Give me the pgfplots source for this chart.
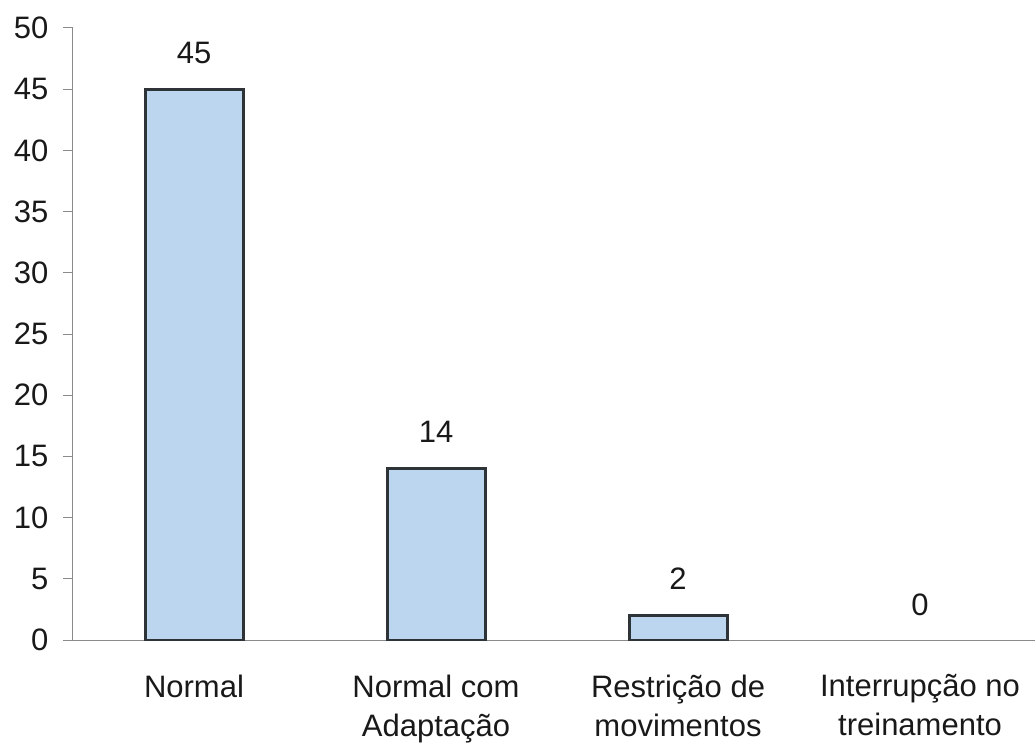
\documentclass[border=0pt]{standalone}
\usepackage{fontspec}
\setmainfont{Liberation Sans}
\usepackage{pgfplots}
\pgfplotsset{compat=1.18}

\definecolor{barfill}{HTML}{BDD6EF}
\definecolor{barline}{HTML}{2E3338}
\definecolor{axgray}{HTML}{8A8A8A}

\begin{document}
\begin{tikzpicture}
\path[use as bounding box] (-73pt,-105pt) rectangle (962pt,640pt);
\begin{axis}[
    scale only axis,
    width=962pt, height=612pt,
    ybar,
    bar width=98pt,
    xmin=-0.5, xmax=3.475,
    ymin=0, ymax=50,
    axis x line=bottom, axis y line=left,
    axis line style={-, axgray, line width=1pt},
    tick style={axgray, line width=1pt},
    tick align=outside,
    major tick length=10pt,
    ytick={0,5,...,50},
    xtick={0,1,2,3},
    xticklabels={Normal, Normal com\\Adaptação, Restrição de\\movimentos, Interrupção no\\treinamento},
    major x tick style={draw=none},
    extra x ticks={-0.5,0.5,1.5,2.5},
    extra x tick labels={},
    extra x tick style={major x tick style={axgray, line width=1pt}},
    /pgf/number format/assume math mode=true,
    ticklabel style={font=\fontsize{31}{39}\selectfont, text=black!90},
    yticklabel style={xshift=-11pt},
    xticklabel style={align=center, anchor=north, yshift=-21pt},
    nodes near coords,
    every node near coord/.append style={font=\fontsize{31}{36}\selectfont, text=black!90, yshift=21pt},
]
\addplot[bar shift=0pt, fill=barfill, draw=barline, line width=3pt]
  coordinates {(0,45) (1,14) (2,2)};
\addplot[bar shift=0pt, fill=none, draw=none]
  coordinates {(3,0)};
\end{axis}
\end{tikzpicture}
\end{document}
